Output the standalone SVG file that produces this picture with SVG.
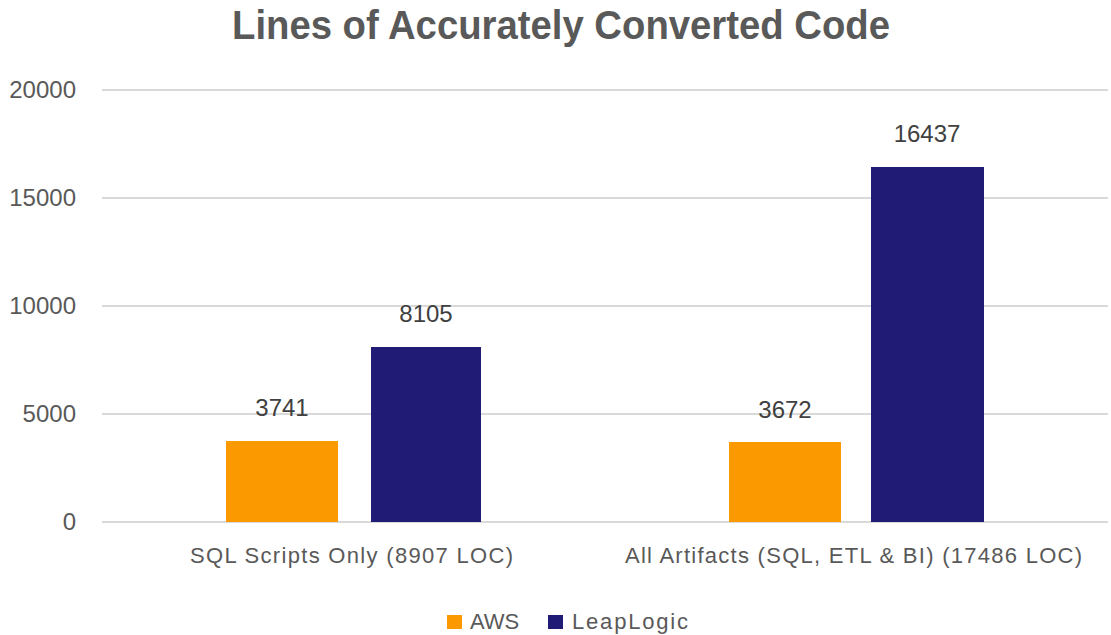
<svg xmlns="http://www.w3.org/2000/svg" width="1111" height="635" viewBox="0 0 1111 635">
  <style>
    .grid { stroke: #D9D9D9; stroke-width: 2; }
    .ax { font-family: "Liberation Sans", Arial, sans-serif; font-size: 24px; fill: #595959; text-anchor: end; }
    .val { font-family: "Liberation Sans", Arial, sans-serif; font-size: 24px; fill: #404040; text-anchor: middle; }
    .cat { font-family: "Liberation Sans", Arial, sans-serif; font-size: 22px; fill: #595959; }
    .leg { font-family: "Liberation Sans", Arial, sans-serif; font-size: 22px; fill: #595959; }
    .aws { fill: #FB9A00; }
    .ll { fill: #201C75; }
  </style>
  <rect width="1111" height="635" fill="#FFFFFF"/>
  <text id="title" x="232" y="39" font-family="'Liberation Sans', Arial, sans-serif" font-size="40" font-weight="bold" fill="#595959" textLength="658" lengthAdjust="spacingAndGlyphs">Lines of Accurately Converted Code</text>

  <g id="gridlines">
    <line class="grid" x1="102" y1="90" x2="1108" y2="90"/>
    <line class="grid" x1="102" y1="198" x2="1108" y2="198"/>
    <line class="grid" x1="102" y1="306" x2="1108" y2="306"/>
    <line class="grid" x1="102" y1="414" x2="1108" y2="414"/>
    <line class="grid" x1="102" y1="522" x2="1108" y2="522"/>
  </g>

  <g id="y-axis">
    <text class="ax" x="76" y="98">20000</text>
    <text class="ax" x="76" y="206">15000</text>
    <text class="ax" x="76" y="314">10000</text>
    <text class="ax" x="76" y="422">5000</text>
    <text class="ax" x="76" y="530">0</text>
  </g>

  <g id="bar-sql-aws">
    <rect class="aws" x="226" y="441" width="112" height="81"/>
    <text class="val" x="282" y="416">3741</text>
  </g>
  <g id="bar-sql-leaplogic">
    <rect class="ll" x="371" y="347" width="110" height="175"/>
    <text class="val" x="426" y="322">8105</text>
  </g>
  <g id="bar-all-aws">
    <rect class="aws" x="729" y="442" width="112" height="80"/>
    <text class="val" x="785" y="418">3672</text>
  </g>
  <g id="bar-all-leaplogic">
    <rect class="ll" x="871" y="167" width="113" height="355"/>
    <text class="val" x="927" y="142">16437</text>
  </g>

  <g id="x-axis">
    <text class="cat" x="190" y="563" textLength="323" lengthAdjust="spacing">SQL Scripts Only (8907 LOC)</text>
    <text class="cat" x="625" y="563" textLength="457" lengthAdjust="spacing">All Artifacts (SQL, ETL &amp; BI) (17486 LOC)</text>
  </g>

  <g id="legend">
    <rect class="aws" x="447" y="615" width="15" height="14"/>
    <text class="leg" x="470" y="629">AWS</text>
    <rect class="ll" x="548" y="615" width="15" height="14"/>
    <text class="leg" x="572" y="629" textLength="116" lengthAdjust="spacing">LeapLogic</text>
  </g>
  <g id="connectors"/>
</svg>
